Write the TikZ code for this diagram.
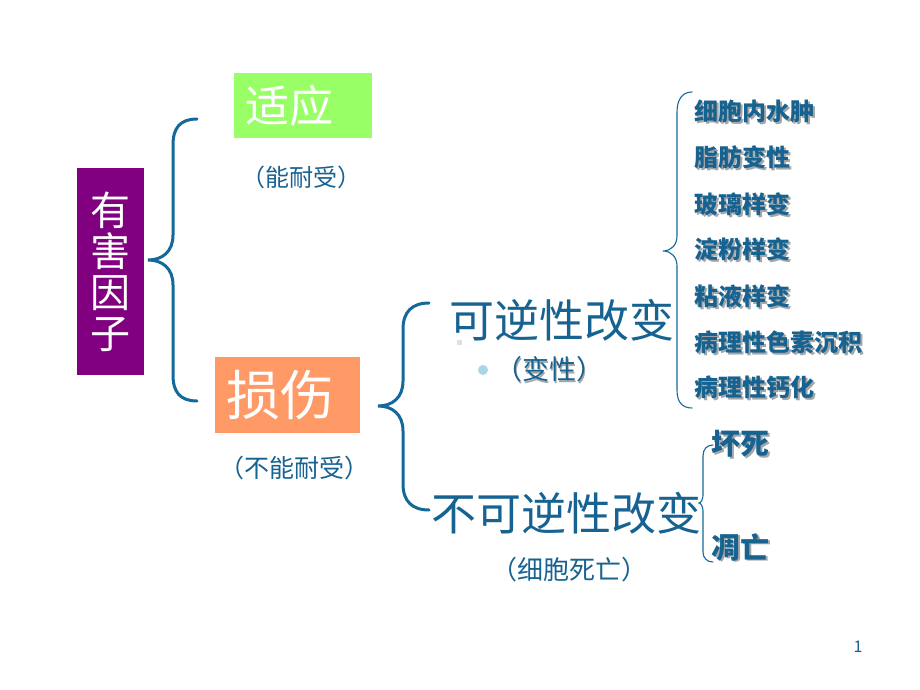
\documentclass[tikz,border=0pt]{standalone}
\usepackage{fontspec}
\setmainfont{Noto Sans CJK SC}
\definecolor{tblue}{RGB}{22,98,145}
\definecolor{bracecol}{RGB}{20,105,155}
\definecolor{purplebox}{RGB}{128,0,128}
\definecolor{greenbox}{RGB}{153,255,102}
\definecolor{orangebox}{RGB}{255,153,102}
\definecolor{bulletblue}{RGB}{168,214,230}
\newcommand\shd[1]{\makebox[0pt][l]{\hspace{1.8pt}\raisebox{-1.8pt}{\color{black!35}#1}}#1}
\tikzset{
  bigbrace/.style={draw=bracecol, line width=3pt, line cap=round},
  smallbrace/.style={draw=bracecol, line width=1.1pt, line cap=round},
  colbox/.style={inner ysep=0pt, inner xsep=11pt, align=left, text=white},
  paren/.style={text=tblue, inner sep=0pt},
  listitem/.style={text=tblue, inner sep=0pt, anchor=west, font=\fontsize{24}{24}\selectfont\bfseries},
}
\begin{document}
\begin{tikzpicture}[x=1pt,y=-1pt]
\useasboundingbox[fill=white] (0,0) rectangle (920,690);
% boxes
\node[fill=purplebox, text=white, minimum width=67pt, minimum height=207pt, inner sep=0pt, align=center,
      font=\fontsize{40}{41}\selectfont] (harm) at (110.5,271.5) {有\\害\\因\\子};
\node[colbox, fill=greenbox, text width=116pt, minimum height=65pt,
      font=\fontsize{44}{44}\selectfont] (adapt) at (303,105.5) {适应};
\node[colbox, fill=orangebox, text width=123pt, minimum height=76pt,
      font=\fontsize{54}{54}\selectfont] (injury) at (287.5,395) {损伤};
\node[paren, font=\fontsize{24}{24}\selectfont] (tol) at (301,177) {（能耐受）};
\node[paren, font=\fontsize{25}{25}\selectfont] (ntol) at (294,468) {（不能耐受）};
% middle
\node[paren, font=\fontsize{45}{45}\selectfont] (rev) at (561.5,320) {可逆性改变};
\node[fill=black!12, minimum size=5pt, inner sep=0pt] (sq) at (459,342) {};
\node[circle, fill=bulletblue, minimum size=10pt, inner sep=0pt] (bul) at (483,370) {};
\node[paren, font=\fontsize{27}{27}\selectfont] (deg) at (549,370) {\shd{（变性）}};
\node[paren, font=\fontsize{45}{45}\selectfont] (irr) at (566.5,513) {不可逆性改变};
\node[paren, font=\fontsize{26}{26}\selectfont] (death) at (569.5,570) {（细胞死亡）};
% list
\node[listitem] (l1) at (694,112) {\shd{细胞内水肿}};
\node[listitem] (l2) at (694,158) {\shd{脂肪变性}};
\node[listitem] (l3) at (694,205) {\shd{玻璃样变}};
\node[listitem] (l4) at (694,250) {\shd{淀粉样变}};
\node[listitem] (l5) at (694,297) {\shd{粘液样变}};
\node[listitem] (l6) at (694,343) {\shd{病理性色素沉积}};
\node[listitem] (l7) at (694,388) {\shd{病理性钙化}};
\node[listitem, font=\fontsize{29}{29}\selectfont\bfseries] (nec) at (711,445) {\shd{坏死}};
\node[listitem, font=\fontsize{29}{29}\selectfont\bfseries] (apo) at (711,548) {\shd{凋亡}};
\node[paren, font=\fontsize{16}{16}\selectfont] (pg) at (858,647) {1};
% braces
\draw[bigbrace] (197,119) .. controls (180,119) and (173,128) .. (173,145) -- (173,235)
  .. controls (173,252) and (162,260) .. (148,260)
  .. controls (162,260) and (173,268) .. (173,285) -- (173,375)
  .. controls (173,392) and (180,401) .. (197,401);
\draw[bigbrace] (429,303) .. controls (412,303) and (403,312) .. (403,329) -- (403,381)
  .. controls (403,398) and (392,406) .. (378,406)
  .. controls (392,406) and (403,414) .. (403,431) -- (403,484)
  .. controls (403,501) and (412,510) .. (429,510);
\draw[smallbrace] (692,92) .. controls (682,92) and (677,100) .. (677,112) -- (677,236)
  .. controls (677,245) and (671,251) .. (663,251)
  .. controls (671,251) and (677,257) .. (677,266) -- (677,390)
  .. controls (677,402) and (682,408) .. (692,408);
\draw[smallbrace] (713,445) .. controls (707,445) and (703,449) .. (703,456) -- (703,495)
  .. controls (703,499) and (701,503) .. (699,503)
  .. controls (701,503) and (703,507) .. (703,511) -- (703,552)
  .. controls (703,558) and (707,562) .. (713,562);
\end{tikzpicture}
\end{document}
